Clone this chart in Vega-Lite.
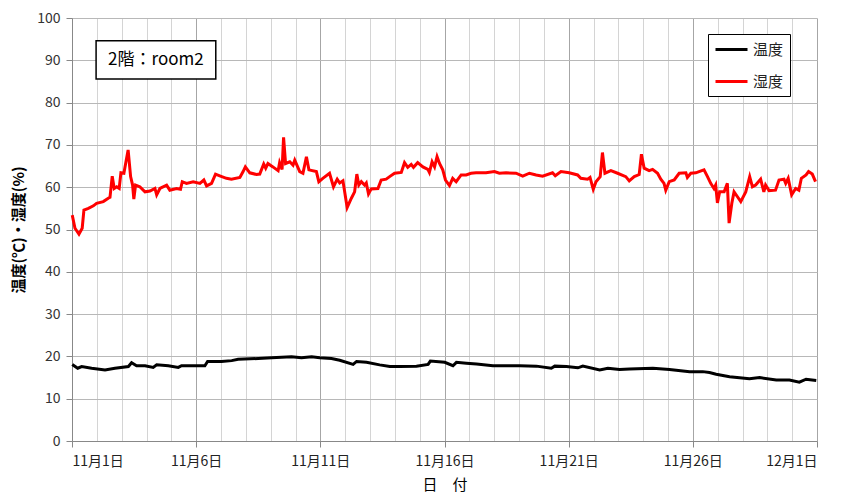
{
  "$schema": "https://vega.github.io/schema/vega-lite/v6.json",
  "width": 745,
  "height": 423,
  "autosize": "none",
  "padding": {"left": 72, "top": 18, "right": 28, "bottom": 52},
  "background": "white",
  "config": {"view": {"stroke": null}, "font": "Noto Sans CJK JP"},
  "datasets": {
    "series": [
      {"d": 0.01, "v": 18.1, "s": "温度"}, {"d": 0.23, "v": 17.2, "s": "温度"}, {"d": 0.39, "v": 17.6, "s": "温度"},
      {"d": 0.79, "v": 17.2, "s": "温度"}, {"d": 1.33, "v": 16.8, "s": "温度"}, {"d": 1.73, "v": 17.2, "s": "温度"},
      {"d": 2.27, "v": 17.6, "s": "温度"}, {"d": 2.40, "v": 18.5, "s": "温度"}, {"d": 2.60, "v": 17.8, "s": "温度"},
      {"d": 2.94, "v": 17.8, "s": "温度"}, {"d": 3.27, "v": 17.4, "s": "温度"}, {"d": 3.41, "v": 18.0, "s": "温度"},
      {"d": 3.88, "v": 17.8, "s": "温度"}, {"d": 4.28, "v": 17.4, "s": "温度"}, {"d": 4.41, "v": 17.8, "s": "温度"},
      {"d": 5.35, "v": 17.8, "s": "温度"}, {"d": 5.46, "v": 18.8, "s": "温度"}, {"d": 6.02, "v": 18.8, "s": "温度"},
      {"d": 6.43, "v": 19.0, "s": "温度"}, {"d": 6.69, "v": 19.3, "s": "温度"}, {"d": 7.50, "v": 19.5, "s": "温度"},
      {"d": 8.04, "v": 19.7, "s": "温度"}, {"d": 8.84, "v": 19.9, "s": "温度"}, {"d": 9.24, "v": 19.7, "s": "温度"},
      {"d": 9.65, "v": 19.9, "s": "温度"}, {"d": 9.98, "v": 19.7, "s": "温度"}, {"d": 10.45, "v": 19.5, "s": "温度"},
      {"d": 10.78, "v": 19.1, "s": "温度"}, {"d": 11.32, "v": 18.1, "s": "温度"}, {"d": 11.46, "v": 18.8, "s": "温度"},
      {"d": 11.86, "v": 18.6, "s": "温度"}, {"d": 12.39, "v": 18.0, "s": "温度"}, {"d": 12.80, "v": 17.6, "s": "温度"},
      {"d": 13.20, "v": 17.6, "s": "温度"}, {"d": 13.87, "v": 17.7, "s": "温度"}, {"d": 14.34, "v": 18.1, "s": "温度"},
      {"d": 14.43, "v": 18.9, "s": "温度"}, {"d": 15.01, "v": 18.6, "s": "温度"}, {"d": 15.34, "v": 17.8, "s": "温度"},
      {"d": 15.48, "v": 18.6, "s": "温度"}, {"d": 15.88, "v": 18.4, "s": "温度"}, {"d": 16.29, "v": 18.2, "s": "温度"},
      {"d": 16.95, "v": 17.8, "s": "温度"}, {"d": 18.03, "v": 17.8, "s": "温度"}, {"d": 18.70, "v": 17.7, "s": "温度"},
      {"d": 19.30, "v": 17.2, "s": "温度"}, {"d": 19.44, "v": 17.7, "s": "温度"}, {"d": 19.91, "v": 17.6, "s": "温度"},
      {"d": 20.37, "v": 17.3, "s": "温度"}, {"d": 20.57, "v": 17.7, "s": "温度"}, {"d": 21.25, "v": 16.8, "s": "温度"},
      {"d": 21.58, "v": 17.2, "s": "温度"}, {"d": 22.05, "v": 16.9, "s": "温度"}, {"d": 22.45, "v": 17.0, "s": "温度"},
      {"d": 23.39, "v": 17.2, "s": "温度"}, {"d": 24.06, "v": 16.9, "s": "温度"}, {"d": 24.87, "v": 16.4, "s": "温度"},
      {"d": 25.40, "v": 16.4, "s": "温度"}, {"d": 25.67, "v": 16.2, "s": "温度"}, {"d": 25.94, "v": 15.8, "s": "温度"},
      {"d": 26.48, "v": 15.2, "s": "温度"}, {"d": 27.28, "v": 14.7, "s": "温度"}, {"d": 27.69, "v": 15.0, "s": "温度"},
      {"d": 28.36, "v": 14.4, "s": "温度"}, {"d": 28.89, "v": 14.4, "s": "温度"}, {"d": 29.29, "v": 13.9, "s": "温度"},
      {"d": 29.56, "v": 14.6, "s": "温度"}, {"d": 29.97, "v": 14.3, "s": "温度"},

      {"d": 0.01, "v": 53.4, "s": "湿度"}, {"d": 0.12, "v": 50.3, "s": "湿度"}, {"d": 0.28, "v": 48.9, "s": "湿度"},
      {"d": 0.41, "v": 50.3, "s": "湿度"}, {"d": 0.48, "v": 54.6, "s": "湿度"}, {"d": 0.66, "v": 55.0, "s": "湿度"},
      {"d": 0.86, "v": 55.6, "s": "湿度"}, {"d": 0.99, "v": 56.2, "s": "湿度"}, {"d": 1.26, "v": 56.6, "s": "湿度"},
      {"d": 1.46, "v": 57.4, "s": "湿度"}, {"d": 1.53, "v": 57.6, "s": "湿度"}, {"d": 1.62, "v": 62.6, "s": "湿度"},
      {"d": 1.70, "v": 59.7, "s": "湿度"}, {"d": 1.80, "v": 60.1, "s": "湿度"}, {"d": 1.90, "v": 59.7, "s": "湿度"},
      {"d": 1.97, "v": 63.4, "s": "湿度"}, {"d": 2.09, "v": 63.3, "s": "湿度"}, {"d": 2.16, "v": 65.6, "s": "湿度"},
      {"d": 2.26, "v": 68.8, "s": "湿度"}, {"d": 2.36, "v": 62.5, "s": "湿度"}, {"d": 2.44, "v": 60.5, "s": "湿度"},
      {"d": 2.49, "v": 57.2, "s": "湿度"}, {"d": 2.56, "v": 60.5, "s": "湿度"}, {"d": 2.73, "v": 60.1, "s": "湿度"},
      {"d": 2.94, "v": 58.9, "s": "湿度"}, {"d": 3.14, "v": 59.1, "s": "湿度"}, {"d": 3.34, "v": 59.7, "s": "湿度"},
      {"d": 3.41, "v": 58.2, "s": "湿度"}, {"d": 3.54, "v": 59.7, "s": "湿度"}, {"d": 3.81, "v": 60.5, "s": "湿度"},
      {"d": 3.94, "v": 59.3, "s": "湿度"}, {"d": 4.21, "v": 59.7, "s": "湿度"}, {"d": 4.37, "v": 59.5, "s": "湿度"},
      {"d": 4.44, "v": 61.3, "s": "湿度"}, {"d": 4.61, "v": 60.9, "s": "湿度"}, {"d": 4.88, "v": 61.3, "s": "湿度"},
      {"d": 5.15, "v": 60.9, "s": "湿度"}, {"d": 5.31, "v": 61.7, "s": "湿度"}, {"d": 5.42, "v": 60.3, "s": "湿度"},
      {"d": 5.62, "v": 60.9, "s": "湿度"}, {"d": 5.78, "v": 63.1, "s": "湿度"}, {"d": 5.95, "v": 62.7, "s": "湿度"},
      {"d": 6.22, "v": 62.1, "s": "湿度"}, {"d": 6.42, "v": 61.9, "s": "湿度"}, {"d": 6.76, "v": 62.3, "s": "湿度"},
      {"d": 6.89, "v": 63.7, "s": "湿度"}, {"d": 6.98, "v": 64.8, "s": "湿度"}, {"d": 7.16, "v": 63.4, "s": "湿度"},
      {"d": 7.43, "v": 63.0, "s": "湿度"}, {"d": 7.56, "v": 63.1, "s": "湿度"}, {"d": 7.72, "v": 65.5, "s": "湿度"},
      {"d": 7.80, "v": 64.5, "s": "湿度"}, {"d": 7.89, "v": 65.6, "s": "湿度"}, {"d": 8.09, "v": 64.8, "s": "湿度"},
      {"d": 8.30, "v": 63.9, "s": "湿度"}, {"d": 8.36, "v": 65.8, "s": "湿度"}, {"d": 8.46, "v": 64.2, "s": "湿度"},
      {"d": 8.52, "v": 71.8, "s": "湿度"}, {"d": 8.60, "v": 65.6, "s": "湿度"}, {"d": 8.77, "v": 66.0, "s": "湿度"},
      {"d": 8.90, "v": 65.2, "s": "湿度"}, {"d": 8.97, "v": 66.4, "s": "湿度"}, {"d": 9.17, "v": 63.7, "s": "湿度"},
      {"d": 9.30, "v": 63.3, "s": "湿度"}, {"d": 9.44, "v": 67.2, "s": "湿度"}, {"d": 9.54, "v": 64.1, "s": "湿度"},
      {"d": 9.84, "v": 63.7, "s": "湿度"}, {"d": 9.94, "v": 61.3, "s": "湿度"}, {"d": 10.10, "v": 62.1, "s": "湿度"},
      {"d": 10.37, "v": 63.3, "s": "湿度"}, {"d": 10.53, "v": 60.1, "s": "湿度"}, {"d": 10.68, "v": 61.9, "s": "湿度"},
      {"d": 10.78, "v": 61.0, "s": "湿度"}, {"d": 10.91, "v": 61.5, "s": "湿度"}, {"d": 11.08, "v": 55.2, "s": "湿度"},
      {"d": 11.25, "v": 57.4, "s": "湿度"}, {"d": 11.38, "v": 58.9, "s": "湿度"}, {"d": 11.47, "v": 63.1, "s": "湿度"},
      {"d": 11.55, "v": 60.5, "s": "湿度"}, {"d": 11.65, "v": 61.3, "s": "湿度"}, {"d": 11.78, "v": 60.5, "s": "湿度"},
      {"d": 11.85, "v": 61.0, "s": "湿度"}, {"d": 11.94, "v": 58.4, "s": "湿度"}, {"d": 12.05, "v": 59.6, "s": "湿度"},
      {"d": 12.32, "v": 59.7, "s": "湿度"}, {"d": 12.45, "v": 61.7, "s": "湿度"}, {"d": 12.65, "v": 61.9, "s": "湿度"},
      {"d": 12.79, "v": 62.5, "s": "湿度"}, {"d": 12.99, "v": 63.3, "s": "湿度"}, {"d": 13.26, "v": 63.5, "s": "湿度"},
      {"d": 13.39, "v": 65.8, "s": "湿度"}, {"d": 13.52, "v": 64.7, "s": "湿度"}, {"d": 13.66, "v": 65.4, "s": "湿度"},
      {"d": 13.75, "v": 64.7, "s": "湿度"}, {"d": 13.92, "v": 65.8, "s": "湿度"}, {"d": 14.13, "v": 64.8, "s": "湿度"},
      {"d": 14.33, "v": 64.2, "s": "湿度"}, {"d": 14.39, "v": 63.5, "s": "湿度"}, {"d": 14.50, "v": 66.0, "s": "湿度"},
      {"d": 14.60, "v": 64.8, "s": "湿度"}, {"d": 14.70, "v": 67.2, "s": "湿度"}, {"d": 14.80, "v": 65.6, "s": "湿度"},
      {"d": 14.93, "v": 64.1, "s": "湿度"}, {"d": 15.04, "v": 61.7, "s": "湿度"}, {"d": 15.20, "v": 60.4, "s": "湿度"},
      {"d": 15.33, "v": 62.1, "s": "湿度"}, {"d": 15.47, "v": 61.3, "s": "湿度"}, {"d": 15.67, "v": 62.9, "s": "湿度"},
      {"d": 15.87, "v": 62.9, "s": "湿度"}, {"d": 16.07, "v": 63.3, "s": "湿度"}, {"d": 16.27, "v": 63.4, "s": "湿度"},
      {"d": 16.67, "v": 63.4, "s": "湿度"}, {"d": 17.01, "v": 63.7, "s": "湿度"}, {"d": 17.21, "v": 63.3, "s": "湿度"},
      {"d": 17.48, "v": 63.4, "s": "湿度"}, {"d": 17.88, "v": 63.3, "s": "湿度"}, {"d": 18.15, "v": 62.6, "s": "湿度"},
      {"d": 18.42, "v": 63.3, "s": "湿度"}, {"d": 18.69, "v": 62.9, "s": "湿度"}, {"d": 18.95, "v": 62.6, "s": "湿度"},
      {"d": 19.35, "v": 63.4, "s": "湿度"}, {"d": 19.46, "v": 62.7, "s": "湿度"}, {"d": 19.69, "v": 63.7, "s": "湿度"},
      {"d": 20.02, "v": 63.4, "s": "湿度"}, {"d": 20.36, "v": 62.9, "s": "湿度"}, {"d": 20.49, "v": 62.1, "s": "湿度"},
      {"d": 20.76, "v": 61.9, "s": "湿度"}, {"d": 20.86, "v": 62.3, "s": "湿度"}, {"d": 20.99, "v": 59.5, "s": "湿度"},
      {"d": 21.10, "v": 61.3, "s": "湿度"}, {"d": 21.27, "v": 62.5, "s": "湿度"}, {"d": 21.36, "v": 68.2, "s": "湿度"},
      {"d": 21.46, "v": 63.3, "s": "湿度"}, {"d": 21.70, "v": 63.9, "s": "湿度"}, {"d": 21.97, "v": 63.3, "s": "湿度"},
      {"d": 22.30, "v": 62.5, "s": "湿度"}, {"d": 22.44, "v": 61.5, "s": "湿度"}, {"d": 22.64, "v": 62.5, "s": "湿度"},
      {"d": 22.84, "v": 63.0, "s": "湿度"}, {"d": 22.93, "v": 67.8, "s": "湿度"}, {"d": 23.04, "v": 64.5, "s": "湿度"},
      {"d": 23.24, "v": 63.9, "s": "湿度"}, {"d": 23.38, "v": 64.2, "s": "湿度"}, {"d": 23.58, "v": 63.3, "s": "湿度"},
      {"d": 23.71, "v": 61.9, "s": "湿度"}, {"d": 23.84, "v": 60.9, "s": "湿度"}, {"d": 23.91, "v": 59.3, "s": "湿度"},
      {"d": 24.05, "v": 61.3, "s": "湿度"}, {"d": 24.25, "v": 61.7, "s": "湿度"}, {"d": 24.45, "v": 63.3, "s": "湿度"},
      {"d": 24.72, "v": 63.4, "s": "湿度"}, {"d": 24.78, "v": 62.3, "s": "湿度"}, {"d": 24.92, "v": 63.3, "s": "湿度"},
      {"d": 25.12, "v": 63.4, "s": "湿度"}, {"d": 25.25, "v": 63.7, "s": "湿度"}, {"d": 25.45, "v": 64.1, "s": "湿度"},
      {"d": 25.59, "v": 62.5, "s": "湿度"}, {"d": 25.72, "v": 60.9, "s": "湿度"}, {"d": 25.85, "v": 59.7, "s": "湿度"},
      {"d": 25.92, "v": 60.5, "s": "湿度"}, {"d": 25.99, "v": 56.3, "s": "湿度"}, {"d": 26.08, "v": 58.9, "s": "湿度"},
      {"d": 26.26, "v": 58.9, "s": "湿度"}, {"d": 26.39, "v": 60.9, "s": "湿度"}, {"d": 26.46, "v": 51.5, "s": "湿度"},
      {"d": 26.57, "v": 56.2, "s": "湿度"}, {"d": 26.66, "v": 58.9, "s": "湿度"}, {"d": 26.79, "v": 57.8, "s": "湿度"},
      {"d": 26.93, "v": 56.6, "s": "湿度"}, {"d": 27.13, "v": 58.9, "s": "湿度"}, {"d": 27.29, "v": 62.5, "s": "湿度"},
      {"d": 27.40, "v": 60.1, "s": "湿度"}, {"d": 27.53, "v": 60.5, "s": "湿度"}, {"d": 27.73, "v": 61.9, "s": "湿度"},
      {"d": 27.86, "v": 58.9, "s": "湿度"}, {"d": 27.93, "v": 60.5, "s": "湿度"}, {"d": 28.07, "v": 59.2, "s": "湿度"},
      {"d": 28.33, "v": 59.3, "s": "湿度"}, {"d": 28.47, "v": 61.7, "s": "湿度"}, {"d": 28.67, "v": 61.9, "s": "湿度"},
      {"d": 28.74, "v": 60.9, "s": "湿度"}, {"d": 28.84, "v": 62.1, "s": "湿度"}, {"d": 28.98, "v": 58.2, "s": "湿度"},
      {"d": 29.14, "v": 59.7, "s": "湿度"}, {"d": 29.27, "v": 59.3, "s": "湿度"}, {"d": 29.37, "v": 62.1, "s": "湿度"},
      {"d": 29.56, "v": 62.9, "s": "湿度"}, {"d": 29.66, "v": 63.7, "s": "湿度"}, {"d": 29.81, "v": 63.1, "s": "湿度"},
      {"d": 29.94, "v": 61.3, "s": "湿度"}
    ]
  },
  "layer": [
    {
      "data": {"name": "series"},
      "mark": {"type": "line", "strokeWidth": 3, "interpolate": "linear"},
      "encoding": {
        "x": {
          "field": "d", "type": "quantitative",
          "scale": {"domain": [0, 30], "nice": false, "zero": false},
          "axis": {
            "title": "日　付",
            "titleFont": "Noto Sans CJK JP", "titleFontSize": 15, "titleFontWeight": "normal", "titleColor": "black",
            "titleX": 372.5, "titleY": 43, "titleAlign": "center", "titleBaseline": "middle",
            "values": [0,1,2,3,4,5,6,7,8,9,10,11,12,13,14,15,16,17,18,19,20,21,22,23,24,25,26,27,28,29,30],
            "labelExpr": "datum.value % 5 == 0 ? (datum.value == 30 ? '12月1日' : '11月' + (datum.value + 1) + '日') : ''",
            "labelOverlap": false, "labelFontSize": 14, "labelColor": "#222", "labelPadding": 7,
            "labelFont": "Noto Sans CJK JP",
            "tickSize": 6, "tickColor": "#888",
            "tickOpacity": {"condition": {"test": "datum.value % 5 == 0", "value": 1}, "value": 0},
            "domainColor": "#888",
            "grid": true,
            "gridColor": {"condition": {"test": "datum.value % 5 == 0", "value": "#a6a6a6"}, "value": "#d4d4d4"},
            "gridWidth": 1
          }
        },
        "y": {
          "field": "v", "type": "quantitative",
          "scale": {"domain": [0, 100], "nice": false},
          "axis": {
            "title": "温度(℃)・湿度(%)",
            "titleFont": "Noto Sans CJK JP", "titleFontSize": 15, "titleFontWeight": "bold", "titleColor": "black",
            "titleX": -54, "titleY": 211.5, "titleAngle": 270, "titleAlign": "center", "titleBaseline": "middle",
            "values": [0,10,20,30,40,50,60,70,80,90,100],
            "labelFontSize": 14, "labelColor": "#333", "labelPadding": 6, "labelFont": "Noto Sans CJK JP",
            "tickSize": 6, "tickColor": "#888", "domainColor": "#888",
            "grid": true, "gridColor": "#b8b8b8"
          }
        },
        "color": {
          "field": "s", "type": "nominal",
          "scale": {"domain": ["温度", "湿度"], "range": ["#000000", "#ff0000"]},
          "legend": {
            "title": null, "orient": "none", "legendX": 636, "legendY": 16,
            "strokeColor": "black", "fillColor": "white", "padding": 6,
            "symbolType": "M-1,0H3", "symbolSize": 256, "symbolStrokeWidth": 3,
            "rowPadding": 14, "labelOffset": 20,
            "labelFontSize": 15, "labelFont": "Noto Sans CJK JP", "labelColor": "#222",
            "direction": "vertical"
          }
        }
      }
    },
    {
      "data": {"values": [{"d": 0.97, "d2": 5.79, "v": 85.6, "v2": 94.6}]},
      "mark": {"type": "rect", "fill": "white", "stroke": "black", "strokeWidth": 1.5},
      "encoding": {
        "x": {
          "field": "d", "type": "quantitative",
          "scale": {"domain": [0, 30], "nice": false, "zero": false},
          "axis": {
            "title": "日　付",
            "titleFont": "Noto Sans CJK JP", "titleFontSize": 15, "titleFontWeight": "normal", "titleColor": "black",
            "titleX": 372.5, "titleY": 43, "titleAlign": "center", "titleBaseline": "middle",
            "values": [0,1,2,3,4,5,6,7,8,9,10,11,12,13,14,15,16,17,18,19,20,21,22,23,24,25,26,27,28,29,30],
            "labelExpr": "datum.value % 5 == 0 ? (datum.value == 30 ? '12月1日' : '11月' + (datum.value + 1) + '日') : ''",
            "labelOverlap": false, "labelFontSize": 14, "labelColor": "#222", "labelPadding": 7,
            "labelFont": "Noto Sans CJK JP",
            "tickSize": 6, "tickColor": "#888",
            "tickOpacity": {"condition": {"test": "datum.value % 5 == 0", "value": 1}, "value": 0},
            "domainColor": "#888",
            "grid": true,
            "gridColor": {"condition": {"test": "datum.value % 5 == 0", "value": "#a6a6a6"}, "value": "#d4d4d4"},
            "gridWidth": 1
          }
        },
        "x2": {"field": "d2"},
        "y": {
          "field": "v", "type": "quantitative",
          "scale": {"domain": [0, 100], "nice": false},
          "axis": {
            "title": "温度(℃)・湿度(%)",
            "titleFont": "Noto Sans CJK JP", "titleFontSize": 15, "titleFontWeight": "bold", "titleColor": "black",
            "titleX": -54, "titleY": 211.5, "titleAngle": 270, "titleAlign": "center", "titleBaseline": "middle",
            "values": [0,10,20,30,40,50,60,70,80,90,100],
            "labelFontSize": 14, "labelColor": "#333", "labelPadding": 6, "labelFont": "Noto Sans CJK JP",
            "tickSize": 6, "tickColor": "#888", "domainColor": "#888",
            "grid": true, "gridColor": "#b8b8b8"
          }
        },
        "y2": {"field": "v2"}
      }
    },
    {
      "data": {"values": [{"d": 3.38, "v": 90.1, "label": "2階：room2"}]},
      "mark": {"type": "text", "fontSize": 17, "font": "Noto Sans CJK JP", "color": "black", "align": "center", "baseline": "middle"},
      "encoding": {
        "x": {
          "field": "d", "type": "quantitative",
          "scale": {"domain": [0, 30], "nice": false, "zero": false},
          "axis": {
            "title": "日　付",
            "titleFont": "Noto Sans CJK JP", "titleFontSize": 15, "titleFontWeight": "normal", "titleColor": "black",
            "titleX": 372.5, "titleY": 43, "titleAlign": "center", "titleBaseline": "middle",
            "values": [0,1,2,3,4,5,6,7,8,9,10,11,12,13,14,15,16,17,18,19,20,21,22,23,24,25,26,27,28,29,30],
            "labelExpr": "datum.value % 5 == 0 ? (datum.value == 30 ? '12月1日' : '11月' + (datum.value + 1) + '日') : ''",
            "labelOverlap": false, "labelFontSize": 14, "labelColor": "#222", "labelPadding": 7,
            "labelFont": "Noto Sans CJK JP",
            "tickSize": 6, "tickColor": "#888",
            "tickOpacity": {"condition": {"test": "datum.value % 5 == 0", "value": 1}, "value": 0},
            "domainColor": "#888",
            "grid": true,
            "gridColor": {"condition": {"test": "datum.value % 5 == 0", "value": "#a6a6a6"}, "value": "#d4d4d4"},
            "gridWidth": 1
          }
        },
        "y": {
          "field": "v", "type": "quantitative",
          "scale": {"domain": [0, 100], "nice": false},
          "axis": {
            "title": "温度(℃)・湿度(%)",
            "titleFont": "Noto Sans CJK JP", "titleFontSize": 15, "titleFontWeight": "bold", "titleColor": "black",
            "titleX": -54, "titleY": 211.5, "titleAngle": 270, "titleAlign": "center", "titleBaseline": "middle",
            "values": [0,10,20,30,40,50,60,70,80,90,100],
            "labelFontSize": 14, "labelColor": "#333", "labelPadding": 6, "labelFont": "Noto Sans CJK JP",
            "tickSize": 6, "tickColor": "#888", "domainColor": "#888",
            "grid": true, "gridColor": "#b8b8b8"
          }
        },
        "text": {"field": "label"}
      }
    }
  ]
}
